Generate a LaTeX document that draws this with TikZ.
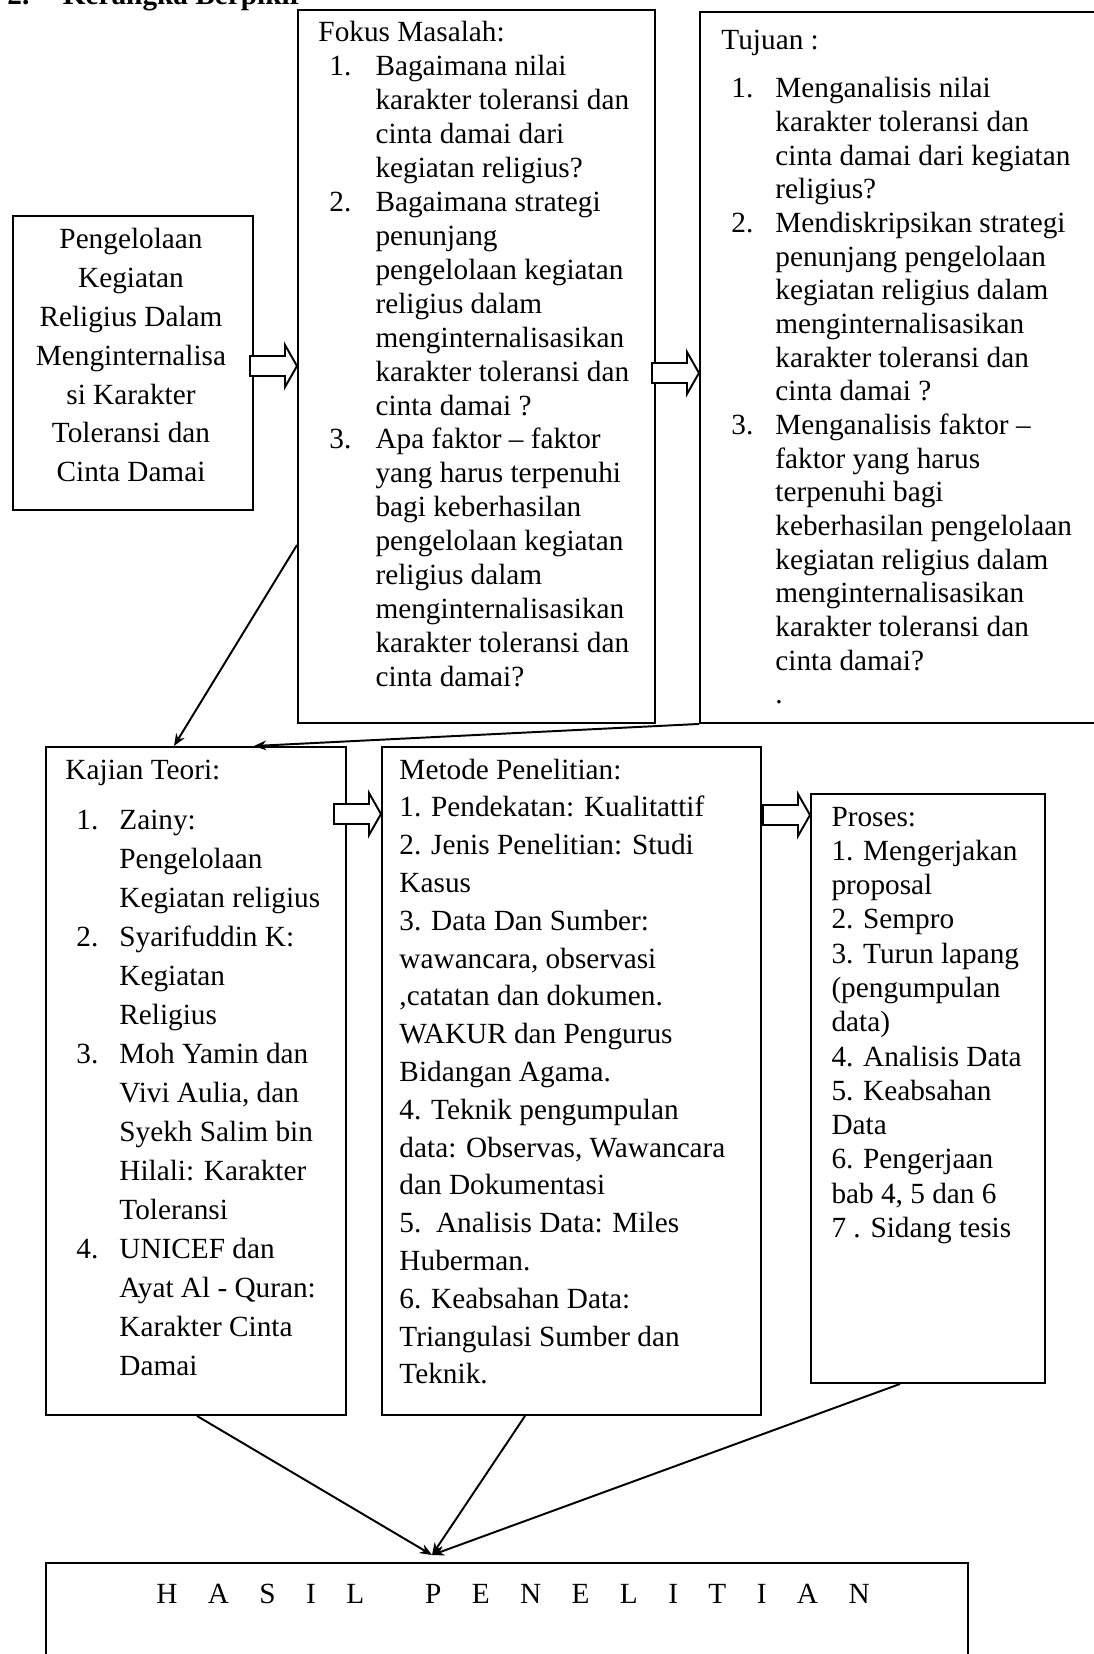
\documentclass[tikz,border=0pt]{standalone}
\usepackage{fontspec}
\setmainfont{Liberation Serif}
\usetikzlibrary{calc, positioning, arrows.meta}

\tikzset{
  kotak/.style 2 args={draw, line width=0.8pt, rectangle, inner sep=0pt, anchor=north west,
    minimum width=#1*0.41pt, minimum height=#2*0.41pt},
  teks/.style={inner sep=0pt, anchor=base west, font=\fontsize{12}{#1}\selectfont},
  panah/.style={line width=0.8pt, -{Stealth[length=5pt, width=4pt]}},
  blokpanah/.pic={
    \draw[line width=0.8pt, fill=white] (-47,-10) -- (-12,-10) -- (-12,-21) -- (0,0)
      -- (-12,21) -- (-12,10) -- (-47,10) -- cycle;
  }
}

\begin{document}
\begin{tikzpicture}[x=0.41pt, y=-0.41pt]
  \useasboundingbox (0,0) rectangle (1093,1654);

  % judul (terpotong di atas)
  \node[teks=14pt, font=\fontsize{12}{14}\selectfont\bfseries] (judul) at (7,5) {2.\hspace{13.7pt}Kerangka Berpikir};

  % Kotak
  \node[kotak={240}{294}] (kelola) at (12,215) {};
  \node[kotak={357}{713}] (fokus) at (297,9) {};
  \node[kotak={450}{711}] (tujuan) at (699,11) {};
  \node[kotak={300}{668}] (kajian) at (45,746) {};
  \node[kotak={379}{668}] (metode) at (381,746) {};
  \node[kotak={234}{589}] (proses) at (810,793) {};
  \node[kotak={922}{120}] (hasil) at (45,1562) {};

  % Isi kotak
  \node[teks=15.9pt, anchor=base] (kelolaisi) at (131,249) {\begin{tabular}[t]{@{}c@{}}
    Pengelolaan\\ Kegiatan\\ Religius  Dalam\\ Menginternalisa\\ si Karakter\\ Toleransi dan\\ Cinta Damai
  \end{tabular}};

  \node[teks=13.9pt] (fokusjudul) at (318,42) {Fokus Masalah:};
  \node[teks=13.9pt] (fokusisi) at (329,76) {\begin{tabular}[t]{@{}l@{\hspace{9.9pt}}l@{}}
    1. & Bagaimana nilai\\
       & karakter toleransi dan\\
       & cinta damai dari\\
       & kegiatan religius?\\
    2. & Bagaimana strategi\\
       & penunjang\\
       & pengelolaan kegiatan\\
       & religius  dalam\\
       & menginternalisasikan\\
       & karakter toleransi dan\\
       & cinta damai ?\\
    3. & Apa faktor – faktor\\
       & yang harus terpenuhi\\
       & bagi keberhasilan\\
       & pengelolaan kegiatan\\
       & religius  dalam\\
       & menginternalisasikan\\
       & karakter toleransi dan\\
       & cinta damai?
  \end{tabular}};

  \node[teks=13.8pt] (tujuanjudul) at (721,50) {Tujuan :};
  \node[teks=13.8pt] (tujuanisi) at (731,98) {\begin{tabular}[t]{@{}l@{\hspace{9pt}}l@{}}
    1. & Menganalisis nilai\\
       & karakter toleransi dan\\
       & cinta damai dari kegiatan\\
       & religius?\\
    2. & Mendiskripsikan strategi\\
       & penunjang pengelolaan\\
       & kegiatan religius  dalam\\
       & menginternalisasikan\\
       & karakter toleransi dan\\
       & cinta damai ?\\
    3. & Menganalisis faktor –\\
       & faktor yang harus\\
       & terpenuhi bagi\\
       & keberhasilan pengelolaan\\
       & kegiatan religius  dalam\\
       & menginternalisasikan\\
       & karakter toleransi dan\\
       & cinta damai?\\
       & .
  \end{tabular}};

  \node[teks=16pt] (kajianjudul) at (65,779) {Kajian Teori:};
  \node[teks=16pt] (kajianisi) at (76,829) {\begin{tabular}[t]{@{}l@{\hspace{8.6pt}}l@{}}
    1. & Zainy:\\
       & Pengelolaan\\
       & Kegiatan religius\\
    2. & Syarifuddin K:\\
       & Kegiatan\\
       & Religius\\
    3. & Moh Yamin dan\\
       & Vivi Aulia, dan\\
       & Syekh Salim bin\\
       & Hilali: Karakter\\
       & Toleransi\\
    4. & UNICEF dan\\
       & Ayat Al - Quran:\\
       & Karakter Cinta\\
       & Damai
  \end{tabular}};

  \node[teks=15.5pt] (metodeisi) at (399,779) {\begin{tabular}[t]{@{}l@{}}
    Metode Penelitian:\\
    1. Pendekatan: Kualitattif\\
    2. Jenis Penelitian: Studi\\
    Kasus\\
    3. Data Dan Sumber:\\
    wawancara, observasi\\
    ,catatan dan dokumen.\\
    WAKUR dan Pengurus\\
    Bidangan Agama.\\
    4. Teknik pengumpulan\\
    data: Observas, Wawancara\\
    dan Dokumentasi\\
    5.\ \ Analisis Data: Miles\\
    Huberman.\\
    6. Keabsahan Data:\\
    Triangulasi Sumber dan\\
    Teknik.
  \end{tabular}};

  \node[teks=14.06pt] (prosesisi) at (831,826) {\begin{tabular}[t]{@{}l@{}}
    Proses:\\
    1. Mengerjakan\\
    proposal\\
    2. Sempro\\
    3. Turun lapang\\
    (pengumpulan\\
    data)\\
    4. Analisis Data\\
    5. Keabsahan\\
    Data\\
    6. Pengerjaan\\
    bab 4, 5 dan 6\\
    7 . Sidang tesis
  \end{tabular}};

  \node[teks=14pt, anchor=base] (hasilisi) at (513,1603) {\spaceskip=1.04em H A S I L\ \ P E N E L I T I A N};

  % Panah blok
  \pic at (fokus.west |- 0,366) {blokpanah};
  \pic at (tujuan.west |- 0,373) {blokpanah};
  \pic at (metode.west |- 0,814) {blokpanah};
  \pic at (proses.west |- 0,815) {blokpanah};

  % Panah garis
  \coordinate (temu) at (432,1555);
  \draw[panah] (fokus.west |- 0,545) -- (kajian.north -| 174,0);
  \draw[panah] (tujuan.south west) -- (kajian.north -| 254,0);
  \draw[panah] (kajian.south -| 197,0) -- (temu);
  \draw[panah] (metode.south -| 525,0) -- (temu);
  \draw[panah] (proses.south -| 900,0) -- (temu);

\end{tikzpicture}
\end{document}
